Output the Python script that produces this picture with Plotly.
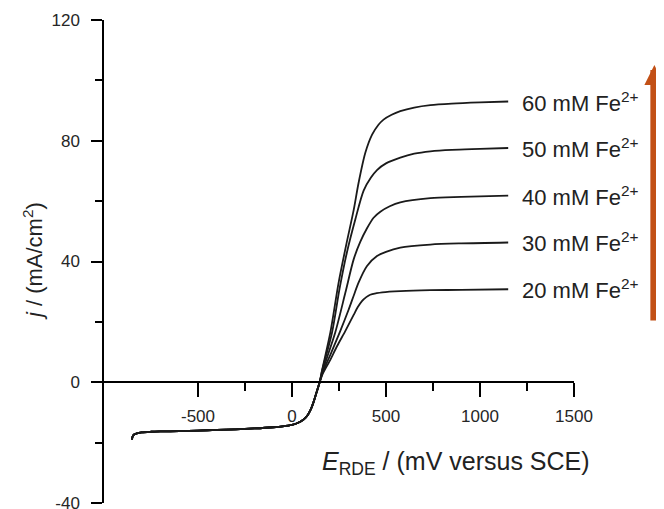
import plotly.graph_objects as go

# shared cathodic branch (all concentrations overlap here)
E_base = [-851, -848, -840, -825, -800, -750, -700, -600, -500, -400, -300, -200, -100, -50, 0, 30, 60, 80, 100, 115, 130, 147]
j_base = [-19.0, -18.0, -17.3, -16.9, -16.6, -16.4, -16.3, -16.2, -16.0, -15.8, -15.6, -15.3, -14.9, -14.6, -14.1, -13.5, -12.4, -11.2, -9.0, -6.5, -3.5, 0.0]

# anodic branch per Fe2+ concentration
E_60 = [160, 204, 248, 290, 328, 354, 390, 426, 460, 487, 530, 576, 650, 736, 850, 1000, 1150]
j_60 = [4.0, 16.5, 33.0, 46.0, 57.0, 66.0, 76.0, 82.0, 85.3, 87.0, 88.6, 89.8, 91.0, 91.8, 92.3, 92.7, 93.0]

E_50 = [160, 213, 253, 292, 337, 381, 420, 452, 500, 576, 650, 736, 850, 1000, 1150]
j_50 = [3.8, 16.5, 31.0, 43.0, 54.0, 63.5, 67.8, 70.3, 72.5, 74.4, 75.7, 76.5, 77.0, 77.3, 77.6]

E_40 = [162, 230, 284, 328, 363, 399, 434, 470, 520, 576, 736, 900, 1150]
j_40 = [3.6, 16.5, 29.7, 40.7, 46.5, 51.0, 54.5, 56.5, 58.3, 59.6, 61.0, 61.4, 61.8]

E_30 = [165, 210, 257, 301, 330, 354, 399, 452, 500, 576, 736, 900, 1150]
j_30 = [3.5, 10.0, 17.0, 24.0, 29.0, 33.0, 38.5, 41.8, 43.2, 44.6, 45.6, 46.0, 46.3]

E_20 = [165, 200, 240, 284, 328, 350, 372, 395, 416, 450, 480, 576, 736, 900, 1150]
j_20 = [3.0, 7.0, 12.0, 17.0, 22.3, 24.9, 26.9, 28.2, 29.0, 29.5, 29.8, 30.2, 30.5, 30.6, 30.8]

curves = [("60 mM", E_60, j_60), ("50 mM", E_50, j_50), ("40 mM", E_40, j_40),
          ("30 mM", E_30, j_30), ("20 mM", E_20, j_20)]

x_ticks = [-500, 0, 500, 1000, 1500]
x_labels = ["-500", "0", "500", "1000", "1500"]
x_minor = [-250, 250, 750, 1250]
y_ticks = [-40, 0, 40, 80, 120]
y_labels = ["-40", "0", "40", "80", "120"]
y_minor = [-20, 20, 60, 100]

FONT = "Liberation Sans, Arial, sans-serif"

fig = go.Figure()
for name, E, j in curves:
    fig.add_trace(go.Scatter(x=E_base + E, y=j_base + j, mode='lines', name=name,
                             line=dict(color='#1a1a1a', width=1.8, shape='spline', smoothing=0.8),
                             showlegend=False))
    fig.add_annotation(x=1215, y=j[-1], xref='x', yref='y', text=name + " Fe<sup>2+</sup>",
                       showarrow=False, xanchor='left', yanchor='middle',
                       font=dict(family=FONT, size=22, color='#222222'))

# page body adds an 8 px margin, so the figure is 8 px smaller and shifted
fig.update_layout(
    width=656, height=501,
    margin=dict(l=96, r=90, t=12, b=6),
    plot_bgcolor='white', paper_bgcolor='white',
    font=dict(family=FONT, size=17, color='#262626'),
    xaxis=dict(range=[-1000, 1500], anchor='free', position=0.25, automargin=False,
               showline=True, linecolor='black', linewidth=1.5, showgrid=False, zeroline=False,
               tickmode='array', tickvals=x_ticks, ticktext=x_labels, ticks='outside', ticklen=14,
               tickwidth=1.5, tickcolor='black', ticklabelstandoff=5,
               minor=dict(tickmode='array', tickvals=x_minor, ticks='outside', ticklen=8,
                          tickwidth=1.5, tickcolor='black', showgrid=False)),
    yaxis=dict(range=[-40, 120], showline=True, linecolor='black', linewidth=1.5,
               showgrid=False, zeroline=False, ticklabeloverflow='allow', automargin=False,
               tickmode='array', tickvals=y_ticks, ticktext=y_labels, ticks='outside', ticklen=11,
               tickwidth=1.5, tickcolor='black', ticklabelstandoff=8,
               minor=dict(tickmode='array', tickvals=y_minor, ticks='outside', ticklen=7,
                          tickwidth=1.5, tickcolor='black', showgrid=False)),
)

# axis titles
fig.add_annotation(x=1.038, y=0.083, xref='paper', yref='paper', showarrow=False,
                   text="<i>E</i><sub>RDE</sub> / (mV versus SCE)", xanchor='right', yanchor='middle',
                   font=dict(family=FONT, size=25, color='#222222'))
fig.add_annotation(x=-0.151, y=0.501, xref='paper', yref='paper', showarrow=False,
                   text="<i>j</i> / (mA/cm<sup>2</sup>)", textangle=-90,
                   xanchor='center', yanchor='middle',
                   font=dict(family=FONT, size=22, color='#222222'))

# increasing-concentration arrow
fig.add_annotation(x=1.171, y=0.907, ax=0, ay=257, xref='paper', yref='paper',
                   axref='pixel', ayref='pixel', text='', showarrow=True,
                   arrowhead=2, arrowsize=0.5, arrowwidth=8, arrowcolor='#C25016')

fig.write_html("out.html")
